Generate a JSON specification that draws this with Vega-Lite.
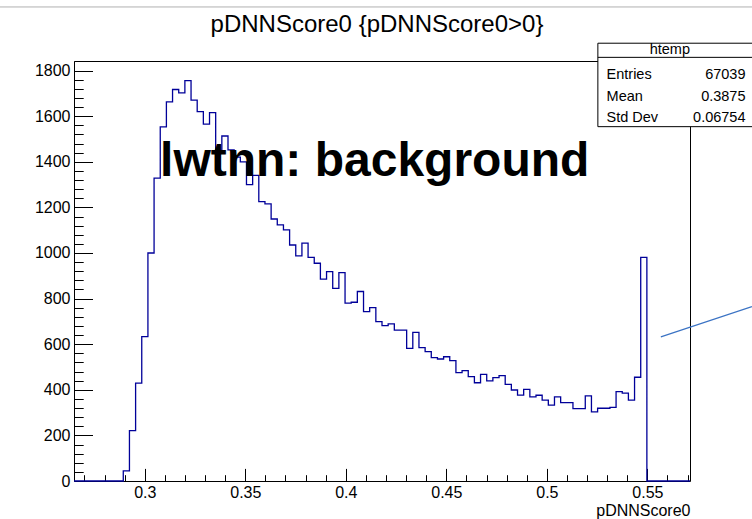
{
  "$schema": "https://vega.github.io/schema/vega-lite/v6.json",
  "width": 616,
  "height": 420,
  "autosize": "none",
  "padding": {"left": 74, "top": 61, "right": 62, "bottom": 38},
  "background": "white",
  "title": {"text": "pDNNScore0 {pDNNScore0>0}", "font": "Liberation Sans", "fontSize": 24, "fontWeight": "normal", "color": "#000", "baseline": "alphabetic", "offset": -50, "dx": -5},
  "config": {
    "font": "Liberation Sans",
    "view": {"stroke": "#000", "strokeWidth": 1},
    "axis": {"grid": false, "domain": false, "tickColor": "#000", "labelColor": "#000", "labelFont": "Liberation Sans", "labelFontSize": 16, "titleFont": "Liberation Sans", "titleFontWeight": "normal", "titleColor": "#000"}
  },
  "datasets": {
    "hist": [
      {"x": 0.2648, "n": 0},
      {"x": 0.28931, "n": 44},
      {"x": 0.29238, "n": 221},
      {"x": 0.29544, "n": 429},
      {"x": 0.29850, "n": 633},
      {"x": 0.30157, "n": 1000},
      {"x": 0.30463, "n": 1328},
      {"x": 0.30770, "n": 1553},
      {"x": 0.31076, "n": 1663},
      {"x": 0.31382, "n": 1717},
      {"x": 0.31689, "n": 1702},
      {"x": 0.31995, "n": 1756},
      {"x": 0.32302, "n": 1670},
      {"x": 0.32608, "n": 1620},
      {"x": 0.32914, "n": 1565},
      {"x": 0.33221, "n": 1616},
      {"x": 0.33527, "n": 1450},
      {"x": 0.33834, "n": 1513},
      {"x": 0.34140, "n": 1452},
      {"x": 0.34446, "n": 1420},
      {"x": 0.34753, "n": 1400},
      {"x": 0.35059, "n": 1300},
      {"x": 0.35366, "n": 1340},
      {"x": 0.35672, "n": 1225},
      {"x": 0.35978, "n": 1215},
      {"x": 0.36285, "n": 1149},
      {"x": 0.36591, "n": 1123},
      {"x": 0.36898, "n": 1101},
      {"x": 0.37204, "n": 1035},
      {"x": 0.37510, "n": 987},
      {"x": 0.37817, "n": 1043},
      {"x": 0.38123, "n": 981},
      {"x": 0.38430, "n": 955},
      {"x": 0.38736, "n": 885},
      {"x": 0.39042, "n": 918},
      {"x": 0.39349, "n": 845},
      {"x": 0.39655, "n": 914},
      {"x": 0.39962, "n": 780},
      {"x": 0.40268, "n": 784},
      {"x": 0.40574, "n": 831},
      {"x": 0.40881, "n": 743},
      {"x": 0.41187, "n": 760},
      {"x": 0.41494, "n": 699},
      {"x": 0.41800, "n": 681},
      {"x": 0.42106, "n": 689},
      {"x": 0.42413, "n": 662},
      {"x": 0.42719, "n": 662},
      {"x": 0.43026, "n": 582},
      {"x": 0.43332, "n": 652},
      {"x": 0.43638, "n": 585},
      {"x": 0.43945, "n": 567},
      {"x": 0.44251, "n": 541},
      {"x": 0.44558, "n": 535},
      {"x": 0.44864, "n": 545},
      {"x": 0.45170, "n": 528},
      {"x": 0.45477, "n": 475},
      {"x": 0.45783, "n": 484},
      {"x": 0.46090, "n": 458},
      {"x": 0.46396, "n": 431},
      {"x": 0.46702, "n": 468},
      {"x": 0.47009, "n": 439},
      {"x": 0.47315, "n": 453},
      {"x": 0.47622, "n": 462},
      {"x": 0.47928, "n": 424},
      {"x": 0.48234, "n": 399},
      {"x": 0.48541, "n": 377},
      {"x": 0.48847, "n": 402},
      {"x": 0.49154, "n": 369},
      {"x": 0.49460, "n": 376},
      {"x": 0.49766, "n": 355},
      {"x": 0.50073, "n": 333},
      {"x": 0.50379, "n": 369},
      {"x": 0.50686, "n": 344},
      {"x": 0.50992, "n": 344},
      {"x": 0.51298, "n": 317},
      {"x": 0.51605, "n": 317},
      {"x": 0.51911, "n": 373},
      {"x": 0.52218, "n": 303},
      {"x": 0.52524, "n": 319},
      {"x": 0.52830, "n": 319},
      {"x": 0.53137, "n": 323},
      {"x": 0.53443, "n": 392},
      {"x": 0.53750, "n": 385},
      {"x": 0.54056, "n": 355},
      {"x": 0.54362, "n": 455},
      {"x": 0.54669, "n": 981},
      {"x": 0.54975, "n": 0},
      {"x": 0.5712, "n": 0}
    ],
    "arrow": [{"x": 0.5567, "y": 632, "x2": 0.6020, "y2": 765}],
    "topline": [{"x": 0.2270, "x2": 0.6030, "y": 2079}],
    "box": [{"x": 0.52537, "x2": 0.6080, "y": 1920, "y2": 1554, "ys": 1858}],
    "boxtitle": [{"x": 0.56117, "y": 1890, "t": "htemp"}],
    "boxlabels": [
      {"x": 0.52969, "y": 1780, "t": "Entries"},
      {"x": 0.52969, "y": 1684, "t": "Mean"},
      {"x": 0.52969, "y": 1590, "t": "Std Dev"}
    ],
    "boxvalues": [
      {"x": 0.59881, "y": 1780, "t": "67039"},
      {"x": 0.59881, "y": 1684, "t": "0.3875"},
      {"x": 0.59881, "y": 1590, "t": "0.06754"}
    ],
    "label": [{"x": 0.41438, "y": 1338, "t": "lwtnn: background"}]
  },
  "layer": [
    {
      "data": {"name": "hist"},
      "mark": {"type": "line", "interpolate": "step-after", "color": "#000099", "strokeWidth": 1.3, "clip": false},
      "encoding": {
        "x": {"field": "x", "type": "quantitative", "scale": {"domain": [0.2648, 0.5712], "nice": false, "zero": false},
          "axis": {"orient": "bottom", "values": [0.3, 0.35, 0.4, 0.45, 0.5, 0.55], "format": "~g", "tickSize": -12.6, "labelPadding": 16, "title": "pDNNScore0", "titleAnchor": "end", "titleFontSize": 16, "titlePadding": 2}},
        "y": {"field": "n", "type": "quantitative", "scale": {"domain": [0, 1842], "nice": false, "zero": false},
          "axis": {"orient": "left", "values": [0, 200, 400, 600, 800, 1000, 1200, 1400, 1600, 1800], "format": "d", "tickSize": -18.5, "labelPadding": 22.5, "title": null}}
      }
    },
    {
      "data": {"name": "arrow"},
      "mark": {"type": "rule", "color": "#3b73c4", "strokeWidth": 1.2, "clip": false},
      "encoding": {
        "x": {"field": "x", "type": "quantitative", "scale": {"domain": [0.2648, 0.5712], "nice": false, "zero": false},
          "axis": {"orient": "bottom", "values": [0.27, 0.28, 0.29, 0.31, 0.32, 0.33, 0.34, 0.36, 0.37, 0.38, 0.39, 0.41, 0.42, 0.43, 0.44, 0.46, 0.47, 0.48, 0.49, 0.51, 0.52, 0.53, 0.54, 0.56, 0.57], "labels": false, "tickSize": -6.3, "title": null}},
        "y": {"field": "y", "type": "quantitative", "scale": {"domain": [0, 1842], "nice": false, "zero": false},
          "axis": {"orient": "left", "values": [40, 80, 120, 160, 240, 280, 320, 360, 440, 480, 520, 560, 640, 680, 720, 760, 840, 880, 920, 960, 1040, 1080, 1120, 1160, 1240, 1280, 1320, 1360, 1440, 1480, 1520, 1560, 1640, 1680, 1720, 1760, 1840], "labels": false, "tickSize": -9.2, "title": null}},
        "x2": {"field": "x2"},
        "y2": {"field": "y2"}
      }
    },
    {
      "data": {"name": "topline"},
      "mark": {"type": "rule", "color": "#b0b0b0", "strokeWidth": 1, "clip": false},
      "encoding": {
        "x": {"field": "x", "type": "quantitative", "scale": {"domain": [0.2648, 0.5712], "nice": false, "zero": false}, "axis": null},
        "x2": {"field": "x2"},
        "y": {"field": "y", "type": "quantitative", "scale": {"domain": [0, 1842], "nice": false, "zero": false}, "axis": null}
      }
    },
    {
      "data": {"name": "box"},
      "mark": {"type": "rect", "fill": "white", "stroke": "#000", "strokeWidth": 1, "clip": false},
      "encoding": {
        "x": {"field": "x", "type": "quantitative", "scale": {"domain": [0.2648, 0.5712], "nice": false, "zero": false}, "axis": null},
        "x2": {"field": "x2"},
        "y": {"field": "y", "type": "quantitative", "scale": {"domain": [0, 1842], "nice": false, "zero": false}, "axis": null},
        "y2": {"field": "y2"}
      }
    },
    {
      "data": {"name": "box"},
      "mark": {"type": "rule", "color": "#000", "strokeWidth": 1, "clip": false},
      "encoding": {
        "x": {"field": "x", "type": "quantitative", "scale": {"domain": [0.2648, 0.5712], "nice": false, "zero": false}, "axis": null},
        "x2": {"field": "x2"},
        "y": {"field": "ys", "type": "quantitative", "scale": {"domain": [0, 1842], "nice": false, "zero": false}, "axis": null}
      }
    },
    {
      "data": {"name": "boxtitle"},
      "mark": {"type": "text", "align": "center", "baseline": "middle", "fontSize": 14.5, "font": "Liberation Sans", "color": "#000", "clip": false},
      "encoding": {
        "x": {"field": "x", "type": "quantitative", "scale": {"domain": [0.2648, 0.5712], "nice": false, "zero": false}, "axis": null},
        "y": {"field": "y", "type": "quantitative", "scale": {"domain": [0, 1842], "nice": false, "zero": false}, "axis": null},
        "text": {"field": "t"}
      }
    },
    {
      "data": {"name": "boxlabels"},
      "mark": {"type": "text", "align": "left", "baseline": "middle", "fontSize": 14.5, "font": "Liberation Sans", "color": "#000", "clip": false},
      "encoding": {
        "x": {"field": "x", "type": "quantitative", "scale": {"domain": [0.2648, 0.5712], "nice": false, "zero": false}, "axis": null},
        "y": {"field": "y", "type": "quantitative", "scale": {"domain": [0, 1842], "nice": false, "zero": false}, "axis": null},
        "text": {"field": "t"}
      }
    },
    {
      "data": {"name": "boxvalues"},
      "mark": {"type": "text", "align": "right", "baseline": "middle", "fontSize": 14.5, "font": "Liberation Sans", "color": "#000", "clip": false},
      "encoding": {
        "x": {"field": "x", "type": "quantitative", "scale": {"domain": [0.2648, 0.5712], "nice": false, "zero": false}, "axis": null},
        "y": {"field": "y", "type": "quantitative", "scale": {"domain": [0, 1842], "nice": false, "zero": false}, "axis": null},
        "text": {"field": "t"}
      }
    },
    {
      "data": {"name": "label"},
      "mark": {"type": "text", "align": "center", "baseline": "alphabetic", "fontSize": 48, "fontWeight": "bold", "font": "Liberation Sans", "color": "#000", "clip": false},
      "encoding": {
        "x": {"field": "x", "type": "quantitative", "scale": {"domain": [0.2648, 0.5712], "nice": false, "zero": false}, "axis": null},
        "y": {"field": "y", "type": "quantitative", "scale": {"domain": [0, 1842], "nice": false, "zero": false}, "axis": null},
        "text": {"field": "t"}
      }
    }
  ],
  "resolve": {"axis": {"x": "independent", "y": "independent"}}
}
